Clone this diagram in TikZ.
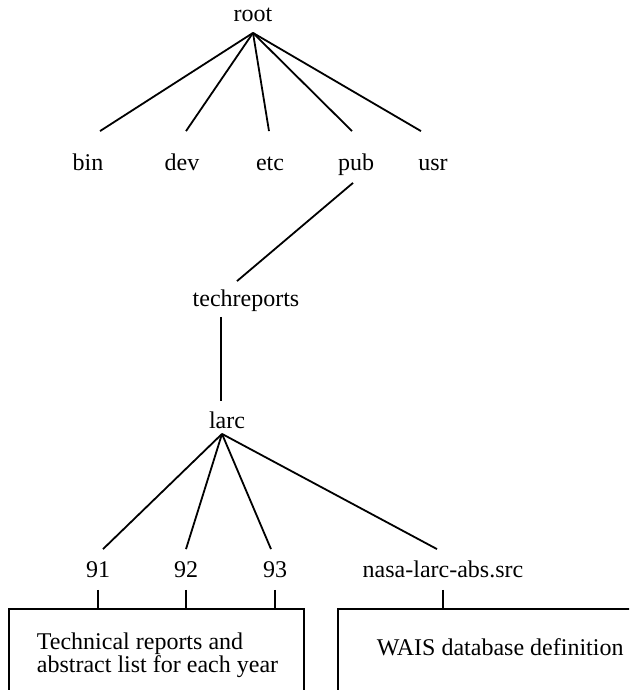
\documentclass[tikz,border=0pt]{standalone}
\usepackage{fontspec}
\setmainfont{Liberation Serif}
\usetikzlibrary{positioning}
\newcommand\lblfont{\fontsize{12}{11.5}\selectfont}

\begin{document}
\begin{tikzpicture}[x=0.5pt, y=-0.5pt, line width=0.9pt,
    lbl/.style={inner sep=0pt, anchor=base, text height=8.5pt, text depth=2.5pt, font=\lblfont},
    box/.style={draw, rectangle, inner sep=0pt, anchor=north west, minimum height=60pt}]
    \useasboundingbox (0,0) rectangle (629,690);
    \clip (0,0) rectangle (629,690);

    %root and first level
    \node at (253, 22) [lbl] (root) {root};
    \node at (88, 170) [lbl] (bin) {bin};
    \node at (182, 170) [lbl] (dev) {dev};
    \node at (270, 170) [lbl] (etc) {etc};
    \node at (356, 170) [lbl] (pub) {pub};
    \node at (433, 170) [lbl] (usr) {usr};

    \foreach \n/\dx in {bin/6pt, dev/2pt, etc/-0.5pt, pub/-2pt, usr/-6pt}
        \draw ([yshift=-2.5pt]root.south) -- ([xshift=\dx, yshift=10.5pt]\n.north);

    %pub -> techreports -> larc
    \node at (246, 306) [lbl] (tech) {techreports};
    \node at (227, 428) [lbl] (larc) {larc};

    \draw ([xshift=-1.5pt, yshift=-3.5pt]pub.south) -- ([xshift=-4.5pt, yshift=3.5pt]tech.north);
    \draw ([xshift=-12.5pt, yshift=-2.5pt]tech.south) -- ([xshift=-3pt, yshift=4.5pt]larc.north);

    %larc children
    \node at (98, 577) [lbl] (y91) {91};
    \node at (186, 577) [lbl] (y92) {92};
    \node at (275, 577) [lbl] (y93) {93};
    \node at (443, 577) [lbl] (src) {nasa-larc-abs.src};

    \foreach \n/\dx in {y91/2.5pt, y92/0pt, y93/-2pt, src/-3pt}
        \draw ([xshift=-2.5pt]larc.south) -- ([xshift=\dx, yshift=5pt]\n.north);

    %boxes
    \node at (8, 608) [box, minimum width=147.5pt] (years) {};
    \node at (337, 608) [box, minimum width=160pt] (wais) {};
    \node at (36, 632) [anchor=north west, align=left, inner sep=0pt, font=\lblfont] (yearstxt)
        {Technical reports and\\abstract list for each year};
    \node at (376, 655) [lbl, anchor=base west] (waistxt) {WAIS database definition};

    \foreach \n in {y91, y92, y93}
        \draw ([yshift=-3.5pt]\n.south) -- (\n |- years.north);
    \draw ([yshift=-3.5pt]src.south) -- (src |- wais.north);
\end{tikzpicture}
\end{document}
